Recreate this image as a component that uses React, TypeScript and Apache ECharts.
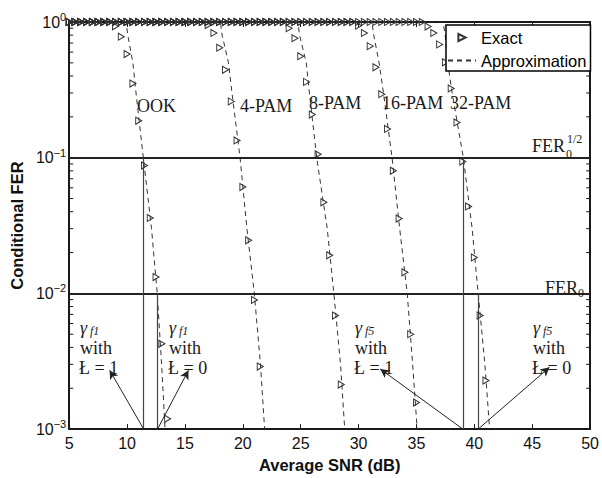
import React, { useEffect, useRef } from "react";
import * as echarts from "echarts";

// ---------------- data ----------------
const SNR_MIN = 5;
const SNR_MAX = 50;
const SNR_TICK = 5;
const FER_MIN = 0.001;
const FER_MAX = 1;

const MODULATIONS = ["OOK", "4-PAM", "8-PAM", "16-PAM", "32-PAM"];

// Exact (simulated) FER, markers every 0.5 dB; FER is saturated at 1 before the first listed SNR
const EXACT_STEP_DB = 0.5;
const SATURATED_FER = 1;
const EXACT_FIRST_SNR = [9, 17, 24, 30, 36];
const EXACT_OOK = [0.93, 0.78, 0.58, 0.352, 0.187, 0.0876, 0.036, 0.0132, 0.00425, 0.00119];
const EXACT_4PAM = [0.95, 0.83, 0.647, 0.444, 0.26, 0.134, 0.0608, 0.0246, 0.00895, 0.00289];
const EXACT_8PAM = [0.9, 0.76, 0.56, 0.362, 0.208, 0.106, 0.0469, 0.0191, 0.00687, 0.00213];
const EXACT_16PAM = [0.94, 0.83, 0.664, 0.464, 0.294, 0.163, 0.08, 0.0356, 0.0143, 0.00501, 0.00157];
const EXACT_32PAM = [0.925, 0.83, 0.684, 0.505, 0.324, 0.182, 0.0936, 0.0437, 0.0184, 0.00687, 0.00228];
const EXACT_VALUES = [EXACT_OOK, EXACT_4PAM, EXACT_8PAM, EXACT_16PAM, EXACT_32PAM];

// Approximation curves: [SNR dB, FER]
const APPROX_OOK = [[5, 1], [9.91, 1], [10.06, 0.8], [10.5, 0.5], [10.77, 0.3], [11.4, 0.1], [12.11, 0.03], [12.6, 0.01], [12.98, 0.003], [13.28, 0.001]];
const APPROX_4PAM = [[5, 1], [18.06, 1], [18.21, 0.8], [18.76, 0.5], [19.06, 0.3], [19.76, 0.1], [20.35, 0.03], [20.99, 0.01], [21.52, 0.003], [21.88, 0.001]];
const APPROX_8PAM = [[5, 1], [24.75, 1], [24.9, 0.8], [25.48, 0.5], [25.75, 0.3], [26.38, 0.1], [27.29, 0.03], [27.86, 0.01], [28.44, 0.003], [28.8, 0.001]];
const APPROX_16PAM = [[5, 1], [31.15, 1], [31.31, 0.8], [31.77, 0.5], [32.15, 0.3], [32.89, 0.1], [33.55, 0.03], [34.2, 0.01], [34.67, 0.003], [35.06, 0.001]];
const APPROX_32PAM = [[5, 1], [37.3, 1], [37.48, 0.8], [37.7, 0.5], [38.08, 0.3], [39.05, 0.1], [39.81, 0.03], [40.33, 0.01], [40.91, 0.003], [41.32, 0.001]];
const APPROX_VALUES = [APPROX_OOK, APPROX_4PAM, APPROX_8PAM, APPROX_16PAM, APPROX_32PAM];

// Reference FER levels
const FER_HALF = 0.1; // FER0^(1/2)
const FER_ZERO = 0.01; // FER0

// Threshold SNRs (vertical lines): [SNR, top FER]
const THRESHOLDS = [[11.43, FER_HALF], [12.63, FER_ZERO], [39.01, FER_HALF], [40.33, FER_ZERO]];
// Arrows: [from SNR (at FER_MIN), tip SNR, tip FER]
const ARROWS = [[11.43, 8.3, 0.0029], [12.63, 15.48, 0.0029], [39.01, 31.56, 0.0029], [40.33, 46.78, 0.003]];

const MINOR_TICK_FER = [
  0.002, 0.003, 0.004, 0.005, 0.006, 0.007, 0.008, 0.009,
  0.02, 0.03, 0.04, 0.05, 0.06, 0.07, 0.08, 0.09,
  0.2, 0.3, 0.4, 0.5, 0.6, 0.7, 0.8, 0.9,
];

const GAMMA_LABELS = [
  { sub: "f1", L: "1" },
  { sub: "f1", L: "0" },
  { sub: "f5", L: "1" },
  { sub: "f5", L: "0" },
];

// ---------------- layout / style ----------------
const W = 602;
const H = 478;
const GRID = { left: 64, right: 11, top: 22, bottom: 39 };
const SERIF = "'Liberation Serif', 'Times New Roman', serif";
const SANS = "'Liberation Sans', Arial, Helvetica, sans-serif";
const INK = "#1a1a1a";
const TRI = "path://M0,0L10,5L0,10Z";
const ARROW_SIZE = [7, 9];

const CURVE_LABEL_POS = [[137, 106], [240, 106], [309, 103], [382, 103], [450, 103]];
const GAMMA_LABEL_X = [80, 169, 355, 533];

function exactPoints(first: number, values: number[]) {
  const pts: number[][] = [];
  const nFlat = Math.round((first - SNR_MIN) / EXACT_STEP_DB);
  for (let i = 0; i < nFlat; i++) pts.push([SNR_MIN + i * EXACT_STEP_DB, SATURATED_FER]);
  values.forEach((v, i) => pts.push([first + i * EXACT_STEP_DB, v]));
  return pts;
}

// the arrow-head symbol is centred on the line end: end the line half a head short of the tip
function arrowEnd(x0: number, x1: number, y1: number) {
  const pxPerDb = (W - GRID.left - GRID.right) / (SNR_MAX - SNR_MIN);
  const pxPerDecade = (H - GRID.top - GRID.bottom) / Math.log10(FER_MAX / FER_MIN);
  const ldec = Math.log10(y1 / FER_MIN);
  const dx = (x1 - x0) * pxPerDb;
  const dy = ldec * pxPerDecade;
  const len = Math.hypot(dx, dy);
  const f = (len - ARROW_SIZE[1] / 2) / len;
  return [x0 + (x1 - x0) * f, FER_MIN * Math.pow(10, ldec * f)];
}

function buildGraphic() {
  const els: any[] = [];
  const t = (text: string, x: number, y: number, size: number, extra: any = {}) =>
    els.push({
      type: "text",
      x,
      y,
      z: 100,
      silent: true,
      style: {
        text,
        fontSize: size,
        fontFamily: SERIF,
        fill: INK,
        align: "left",
        verticalAlign: "middle",
        textAlign: "left",
        textVerticalAlign: "middle",
        ...extra,
      },
    });
  MODULATIONS.forEach((m, i) => t(m, CURVE_LABEL_POS[i][0], CURVE_LABEL_POS[i][1], 18));
  // FER0^(1/2)
  t("FER", 532, 146, 18);
  t("1/2", 567, 139, 12);
  t("0", 566, 154, 12);
  // FER0
  t("FER", 545, 288, 18);
  t("0", 578, 293, 12);
  GAMMA_LABELS.forEach((g, i) => {
    const x = GAMMA_LABEL_X[i];
    t("\u03b3", x, 328, 18, { fontStyle: "italic" });
    t(g.sub, x + 10, 331, 12, { fontStyle: "italic" });
    t("with", x, 348, 18);
    t("\u0141 = " + g.L, x - 1, 367.5, 18);
  });
  return els;
}

function buildOption() {
  const approxSeries = APPROX_VALUES.map((d, i) => ({
    type: "line",
    name: "Approximation",
    id: "approx-" + MODULATIONS[i],
    data: d,
    symbol: "none",
    showSymbol: false,
    itemStyle: { color: "#333" },
    lineStyle: { color: "#333", width: 1, type: [5, 4] },
    z: 2,
  }));
  const exactSeries = EXACT_VALUES.map((v, i) => ({
    type: "line",
    name: "Exact",
    id: "exact-" + MODULATIONS[i],
    data: exactPoints(EXACT_FIRST_SNR[i], v),
    symbol: TRI,
    symbolSize: [6, 7],
    showSymbol: true,
    showAllSymbol: true,
    itemStyle: { color: "rgba(0,0,0,0)", borderColor: "#333", borderWidth: 1 },
    lineStyle: { opacity: 0, width: 0 },
    z: 3,
  }));

  const markData: any[] = [
    { yAxis: FER_HALF, lineStyle: { color: "#222", width: 2, type: "solid" } },
    { yAxis: FER_ZERO, lineStyle: { color: "#222", width: 2, type: "solid" } },
  ];
  THRESHOLDS.forEach(([x, top]) =>
    markData.push([
      { coord: [x, top], lineStyle: { color: "#444", width: 1.2, type: "solid" } },
      { coord: [x, FER_MIN] },
    ])
  );
  ARROWS.forEach(([x0, x1, y1]) =>
    markData.push([
      { coord: [x0, FER_MIN], symbol: "none", lineStyle: { color: "#222", width: 1, type: "solid" } },
      { coord: arrowEnd(x0, x1, y1), symbol: "arrow", symbolSize: ARROW_SIZE },
    ])
  );

  const refSeries = {
    type: "line",
    name: "refs",
    data: [],
    symbol: "none",
    lineStyle: { opacity: 0 },
    z: 4,
    markLine: {
      silent: true,
      animation: false,
      symbol: ["none", "none"],
      label: { show: false },
      emphasis: { disabled: true },
      itemStyle: { color: "#222" },
      data: markData,
    },
  };

  const minorTicks = {
    type: "custom",
    name: "minorTicks",
    silent: true,
    z: 6,
    data: MINOR_TICK_FER.map((v) => [SNR_MIN, v]),
    encode: { x: 0, y: 1 },
    renderItem: (_p: any, api: any) => {
      const v = api.value(1);
      const l = api.coord([SNR_MIN, v]);
      const r = api.coord([SNR_MAX, v]);
      return {
        type: "group",
        children: [
          { type: "line", shape: { x1: l[0], y1: l[1], x2: l[0] + 4, y2: l[1] }, style: { stroke: INK, lineWidth: 1 } },
          { type: "line", shape: { x1: r[0] - 4, y1: r[1], x2: r[0], y2: r[1] }, style: { stroke: INK, lineWidth: 1 } },
        ],
      };
    },
  };

  const axisLine = { show: true, onZero: false, lineStyle: { color: INK, width: 2 } };
  const yLabelFormatter = (v: number) => {
    const e = Math.round(Math.log10(v));
    const ex = e === 0 ? "0" : "\u2212" + String(-e);
    return "{b|10}{s|" + ex + "}";
  };

  return {
    animation: false,
    backgroundColor: "#fff",
    grid: { ...GRID, containLabel: false },
    legend: {
      data: [
        { name: "Exact" },
        { name: "Approximation", itemStyle: { opacity: 0 } },
      ],
      orient: "vertical",
      left: 446,
      top: 25,
      padding: [4, 4, 2, 1],
      itemWidth: 28,
      itemHeight: 9,
      itemGap: 6,
      backgroundColor: "#fff",
      borderColor: "#000",
      borderWidth: 1.5,
      borderRadius: 0,
      selectedMode: false,
      z: 20,
      textStyle: { fontSize: 16.5, fontFamily: SANS, color: "#000" },
    },
    xAxis: [
      {
        type: "value",
        min: SNR_MIN,
        max: SNR_MAX,
        interval: SNR_TICK,
        position: "bottom",
        axisLine,
        axisTick: { show: true, inside: true, length: 5, lineStyle: { color: INK, width: 1 } },
        axisLabel: { margin: 6, fontSize: 16, color: "#111", fontFamily: SANS },
        splitLine: { show: false },
        name: "Average SNR (dB)",
        nameLocation: "middle",
        nameGap: 18,
        nameTextStyle: { fontWeight: "bold", fontSize: 16.5, fontFamily: SANS, color: "#111" },
      },
      {
        type: "value",
        min: SNR_MIN,
        max: SNR_MAX,
        interval: SNR_TICK,
        position: "top",
        axisLine,
        axisTick: { show: true, inside: true, length: 5, lineStyle: { color: INK, width: 1 } },
        axisLabel: { show: false },
        splitLine: { show: false },
      },
    ],
    yAxis: [
      {
        type: "log",
        logBase: 10,
        min: FER_MIN,
        max: FER_MAX,
        position: "left",
        axisLine,
        axisTick: { show: true, inside: true, length: 6, lineStyle: { color: INK, width: 1 } },
        axisLabel: {
          margin: 3,
          formatter: yLabelFormatter,
          rich: {
            b: { fontSize: 16, fontFamily: SANS, color: "#111" },
            s: { fontSize: 11, fontFamily: SANS, color: "#111", padding: [0, 0, 10, 0] },
          },
        },
        splitLine: { show: false },
        name: "Conditional FER",
        nameLocation: "middle",
        nameGap: 36,
        nameRotate: 90,
        nameTextStyle: { fontWeight: "bold", fontSize: 16.5, fontFamily: SANS, color: "#111" },
      },
      {
        type: "log",
        logBase: 10,
        min: FER_MIN,
        max: FER_MAX,
        position: "right",
        axisLine,
        axisTick: { show: true, inside: true, length: 6, lineStyle: { color: INK, width: 1 } },
        axisLabel: { show: false },
        splitLine: { show: false },
      },
    ],
    series: [...approxSeries, ...exactSeries, refSeries, minorTicks],
    graphic: buildGraphic(),
  };
}

export default function App() {
  const ref = useRef<HTMLDivElement>(null);
  useEffect(() => {
    if (!ref.current) return;
    const chart = echarts.init(ref.current, null, { renderer: "svg" });
    chart.setOption(buildOption() as any);
    return () => chart.dispose();
  }, []);
  return (
    <div
      ref={ref}
      style={{ position: "absolute", left: 0, top: 0, width: W, height: H, background: "#fff" }}
    />
  );
}
